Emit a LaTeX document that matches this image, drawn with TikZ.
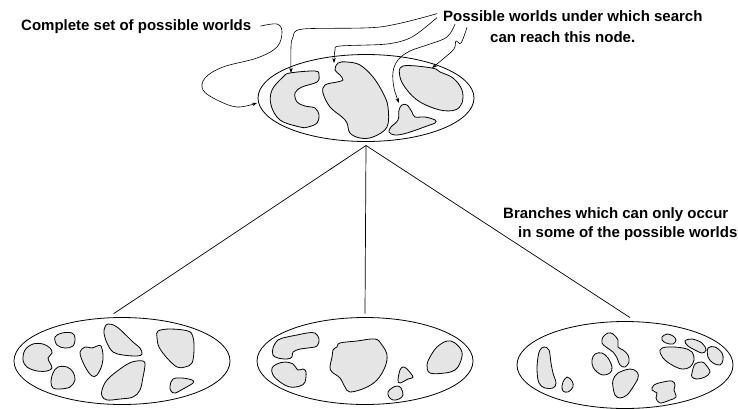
\documentclass[tikz,border=0pt]{standalone}
\usepackage{fontspec}
\setmainfont{Liberation Sans}
\usetikzlibrary{shapes.geometric, arrows.meta}

\tikzset{
    worldset/.style={ellipse, draw, line width=0.8pt, minimum width=216pt,
        minimum height=87pt, inner sep=0pt, outer sep=4pt},
    world/.style={draw, fill=black!10, line width=0.8pt},
    pointer/.style={line width=0.6pt, -{Stealth[length=5pt, width=3.5pt]}},
    label/.style={font=\bfseries\fontsize{15}{18}\selectfont, inner sep=0pt, anchor=base west}
}

\begin{document}
\begin{tikzpicture}[x=1pt, y=-1pt]
            % Same Bounding Box
            \useasboundingbox (0,0) rectangle (738,408);

            % Search tree nodes
            \node[worldset] (top) at (366,98) {};
            \node[worldset] (left) at (122,361) {};
            \node[worldset] (mid) at (365,361) {};
            \node[worldset] (right) at (625,365) {};

            % Branches
            \draw[line width=0.7pt] (top.south) -- (left.100);
            \draw[line width=0.7pt] (top.south) -- (mid.north);
            \draw[line width=0.7pt] (top.south) -- (right.84);

            % Labels
            \node[label] (complete) at (21,30) {Complete set of possible worlds};
            \node[label] (possible) at (443,21) {Possible worlds under which search};
            \node[label] (reach) at (490,42) {can reach this node.};
            \node[label] (branches) at (503,218) {Branches which can only occur};
            \node[label] (some) at (518,237) {in some of the possible worlds};

            % Worlds reaching the top node
            \draw[world] plot[smooth cycle, tension=0.6] coordinates {(290,73) (315,71) (319,75) (317,82) (302,87) (295,93) (297,102) (305,106) (315,108) (319,115) (317,123) (308,127) (300,127) (280,120) (271,105) (272,90) (283,77)};
            \draw[world] plot[smooth cycle, tension=0.6] coordinates {(347,62) (360,65) (373,77) (383,93) (388,107) (387,127) (373,137) (360,138) (350,133) (347,123) (342,117) (330,107) (323,93) (325,85) (337,82) (343,80) (340,75) (335,70) (338,63)};
            \draw[world] plot[smooth cycle, tension=0.6] coordinates {(403,66) (400,77) (407,90) (420,102) (440,110) (455,110) (462,103) (462,90) (453,78) (440,72) (432,68)};
            \draw[world] plot[smooth cycle, tension=0.6] coordinates {(402,105) (407,105) (412,112) (415,117) (425,117) (435,120) (435,123) (427,126) (407,133) (395,135) (389,132) (391,127) (398,120) (399,110)};

            % Pointers from the labels
            \draw[pointer] plot[smooth, tension=0.6] coordinates {([xshift=9pt]complete.east) (277,24) (282,32) (277,47) (257,58) (223,67) (205,78) (203,90) (217,100) (237,107) (257,103)};
            \draw[pointer] plot[smooth, tension=0.5] coordinates {([xshift=-6pt, yshift=2pt]possible.west) (380,27) (303,29) (293,37) (291,47) (291,73)};
            \draw[pointer] plot[smooth, tension=0.5] coordinates {([xshift=-6pt, yshift=-2pt]possible.west) (412,37) (387,44) (340,46) (335,50) (334,63)};
            \draw[pointer] plot[smooth, tension=0.6] coordinates {([xshift=12pt, yshift=-3pt]possible.south west) (447,37) (430,44) (410,51) (398,60) (393,72) (394,88) (399,103)};
            \draw[pointer] plot[smooth, tension=0.6] coordinates {([xshift=24pt, yshift=-6pt]possible.south west) (461,43) (456,41) (454,49) (443,59) (432,68)};

            % Worlds of the left branch
            \draw[world] plot[smooth cycle, tension=0.6] coordinates {(25,350) (33,344) (43,344) (50,348) (52,353) (48,358) (50,363) (52,368) (47,371) (37,371) (27,367) (23,360)};
            \draw[world] plot[smooth cycle, tension=0.6] coordinates {(55,337) (62,333) (72,333) (75,338) (73,346) (65,348) (57,345)};
            \draw[world] plot[smooth cycle, tension=0.6] coordinates {(53,373) (58,367) (67,367) (73,372) (75,380) (70,387) (60,389) (53,388) (51,382)};
            \draw[world] plot[smooth cycle, tension=0.6] coordinates {(80,352) (85,347) (92,348) (97,346) (101,346) (103,355) (102,365) (97,375) (92,376) (87,370) (82,360)};
            \draw[world] plot[smooth cycle, tension=0.6] coordinates {(105,327) (108,324) (117,327) (133,342) (140,348) (142,354) (137,356) (123,355) (113,352) (107,343) (104,333)};
            \draw[world] plot[smooth cycle, tension=0.6] coordinates {(102,390) (107,380) (120,369) (132,362) (143,361) (145,365) (143,377) (140,390) (133,397) (120,399) (107,400) (102,396)};
            \draw[world] plot[smooth cycle, tension=0.6] coordinates {(158,331) (170,329) (188,331) (193,337) (194,350) (192,363) (185,367) (177,367) (167,358) (159,347) (157,337)};
            \draw[world] plot[smooth cycle, tension=0.6] coordinates {(173,379) (182,378) (192,380) (193,383) (183,389) (175,393) (171,391) (170,386)};

            % Worlds of the middle branch
            \draw[world] plot[smooth cycle, tension=0.6] coordinates {(273,348) (278,340) (287,337) (297,335) (307,333) (315,333) (319,339) (317,346) (308,348) (300,349) (293,352) (292,357) (287,359) (278,358) (273,355)};
            \draw[world] plot[smooth cycle, tension=0.6] coordinates {(272,368) (277,364) (285,362) (293,364) (298,370) (303,369) (306,372) (305,382) (300,386) (290,387) (280,382) (273,375)};
            \draw[world] plot[smooth cycle, tension=0.6] coordinates {(335,348) (337,347) (340,343) (357,341) (375,339) (382,345) (387,355) (385,367) (377,380) (365,388) (350,392) (345,387) (340,378) (332,372) (330,367) (332,357) (333,350)};
            \draw[world] plot[smooth cycle, tension=0.6] coordinates {(400,370) (403,367) (407,369) (413,377) (408,379) (400,383) (398,380)};
            \draw[world] plot[smooth cycle, tension=0.6] coordinates {(392,388) (397,386) (401,388) (403,395) (399,399) (393,400) (389,397) (388,392)};
            \draw[world] plot[smooth cycle, tension=0.6] coordinates {(430,357) (437,347) (447,341) (455,343) (462,352) (460,363) (455,370) (445,373) (430,373) (427,365)};

            % Worlds of the right branch
            \draw[world] plot[smooth cycle, tension=0.6] coordinates {(540,350) (544,347) (549,350) (551,363) (553,373) (556,383) (553,388) (545,388) (539,383) (537,370) (538,357)};
            \draw[world] plot[smooth cycle, tension=0.6] coordinates {(563,382) (567,377) (572,381) (573,387) (568,392) (563,391) (562,386)};
            \draw[world] plot[smooth cycle, tension=0.6] coordinates {(603,337) (608,333) (613,334) (618,340) (618,347) (623,350) (628,355) (629,362) (625,367) (620,365) (617,358) (613,352) (606,347) (602,343)};
            \draw[world] plot[smooth cycle, tension=0.6] coordinates {(592,360) (595,354) (602,353) (608,358) (612,367) (610,373) (603,375) (597,372) (593,367)};
            \draw[world] plot[smooth cycle, tension=0.6] coordinates {(613,380) (618,373) (630,369) (637,372) (638,378) (633,387) (627,395) (620,398) (615,395) (613,387)};
            \draw[world] plot[smooth cycle, tension=0.6] coordinates {(652,390) (654,385) (663,382) (672,381) (675,385) (674,390) (676,397) (670,400) (660,403) (656,398) (657,393)};
            \draw[world] plot[smooth cycle, tension=0.6] coordinates {(662,337) (667,334) (673,336) (676,340) (673,344) (666,343) (662,340)};
            \draw[world] plot[smooth cycle, tension=0.6] coordinates {(685,341) (692,339) (702,343) (706,350) (702,353) (695,350) (688,346)};
            \draw[world] plot[smooth cycle, tension=0.6] coordinates {(660,350) (667,347) (683,348) (692,352) (694,360) (690,367) (682,369) (672,365) (663,358)};
            \draw[world] plot[smooth cycle, tension=0.6] coordinates {(708,348) (715,347) (722,353) (723,360) (720,365) (713,363) (708,357)};
            \draw[world] plot[smooth cycle, tension=0.6] coordinates {(692,373) (695,364) (702,362) (706,365) (710,372) (705,377) (697,379) (692,377)};
        \end{tikzpicture}
\end{document}
